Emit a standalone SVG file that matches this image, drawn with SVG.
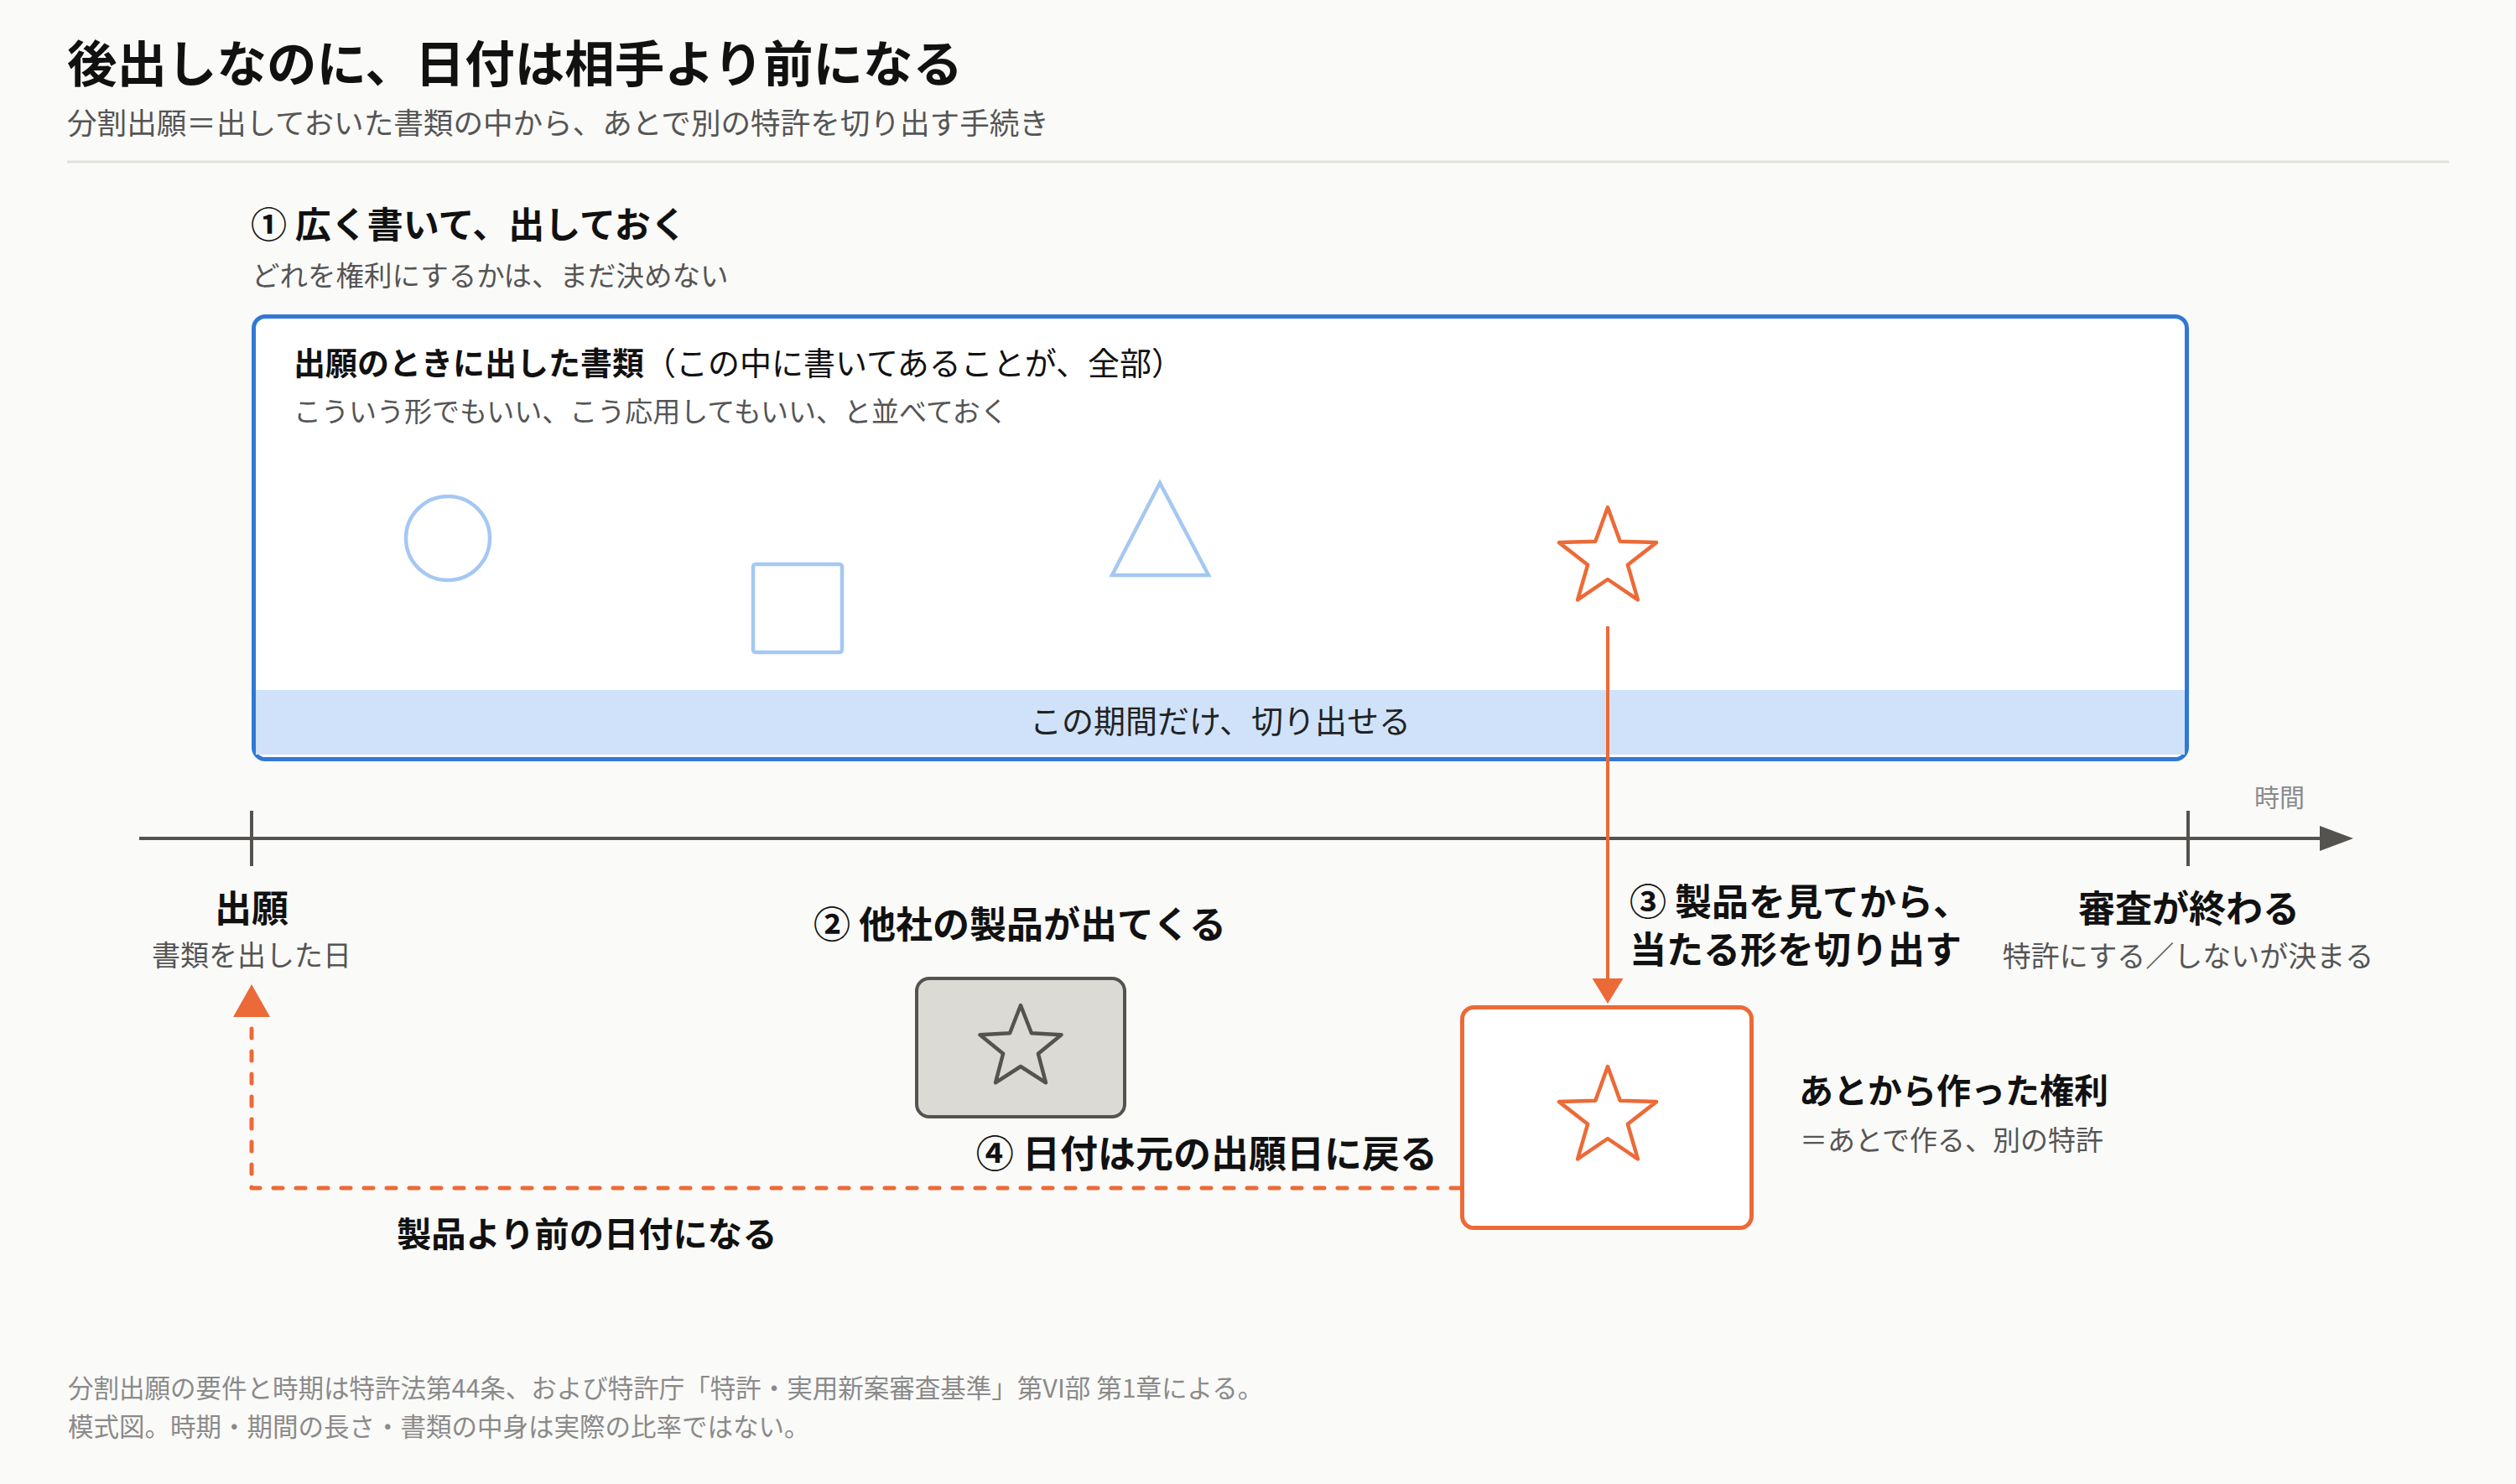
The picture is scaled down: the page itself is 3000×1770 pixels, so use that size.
<svg xmlns="http://www.w3.org/2000/svg" width="3000" height="1770" viewBox="0 0 3000 1770">
<style>
text{font-family:"Noto Sans CJK JP","Noto Sans",sans-serif;}
.h1{font-size:59.5px;font-weight:700;fill:#111;}
.sub{font-size:35.6px;fill:#555;}
.h2{font-size:43px;font-weight:700;fill:#111;}
.lbl{font-size:44px;font-weight:700;fill:#111;}
.note{font-size:33px;fill:#555;}
.foot{font-size:30.5px;fill:#8a8a8a;}
.mid{text-anchor:middle;}
.end{text-anchor:end;}
.shape{fill:none;stroke:#a5c8f2;stroke-width:4.5;}
.ostar{fill:none;stroke:#ec6a37;stroke-width:4.5;stroke-linejoin:round;}
.axis{stroke:#55534f;stroke-width:4;fill:none;}
</style>
<defs>
<path id="star" d="M0,-61 L14.7,-20.2 L58,-18.9 L23.8,7.7 L35.9,49.4 L0,25 L-35.9,49.4 L-23.8,7.7 L-58,-18.9 L-14.7,-20.2 Z"/>
<marker id="axisHead" markerUnits="userSpaceOnUse" markerWidth="40" markerHeight="30" refX="0" refY="15" orient="auto">
<path d="M0,0 L40,15 L0,30 Z" fill="#55534f"/>
</marker>
<marker id="downHead" markerUnits="userSpaceOnUse" markerWidth="30" markerHeight="37" refX="3" refY="18.5" orient="auto">
<path d="M0,0 L30,18.5 L0,37 Z" fill="#ec6a37"/>
</marker>
<marker id="upHead" markerUnits="userSpaceOnUse" markerWidth="39" markerHeight="44" refX="0" refY="22" orient="auto">
<path d="M0,0 L39,22 L0,44 Z" fill="#ec6a37"/>
</marker>
</defs>
<rect x="0" y="0" width="3000" height="1770" fill="#fafaf8"/>

<g id="header">
<text class="h1" x="80" y="98">後出しなのに、日付は相手より前になる</text>
<text class="sub" x="80" y="160">分割出願＝出しておいた書類の中から、あとで別の特許を切り出す手続き</text>
<line x1="80" y1="193" x2="2920" y2="193" stroke="#e2e1dc" stroke-width="3"/>
</g>

<g id="step1-label">
<text class="h2" x="299" y="284">① 広く書いて、出しておく</text>
<text x="300" y="341" style="font-size:33.5px;fill:#555;">どれを権利にするかは、まだ決めない</text>
</g>

<g id="document">
<rect x="302.5" y="377.5" width="2305" height="528" rx="14" fill="#fff" stroke="#3178d4" stroke-width="5"/>
<rect x="305" y="823" width="2300" height="77" fill="#cfe2f9"/>
<text x="350" y="447" style="font-size:38px;fill:#111;"><tspan font-weight="700">出願のときに出した書類</tspan>（この中に書いてあることが、全部）</text>
<text class="note" x="350" y="503">こういう形でもいい、こう応用してもいい、と並べておく</text>
<circle class="shape" cx="534" cy="642" r="50"/>
<rect class="shape" x="898" y="673" width="106" height="105" rx="3"/>
<polygon class="shape" points="1383,576 1441,686 1326,686" stroke-linejoin="miter"/>
<use href="#star" x="1917" y="666" class="ostar"/>
<text class="mid" x="1455" y="874" style="font-size:38px;fill:#222;">この期間だけ、切り出せる</text>
</g>

<g id="timeline">
<line class="axis" x1="166" y1="1000" x2="2766" y2="1000" marker-end="url(#axisHead)"/>
<line class="axis" x1="300" y1="967" x2="300" y2="1033"/>
<line class="axis" x1="2609" y1="967" x2="2609" y2="1033"/>
<text class="mid" x="2718" y="962" style="font-size:30px;fill:#8a8a8a;">時間</text>
</g>

<g id="filing">
<text class="lbl mid" x="300" y="1100">出願</text>
<text class="mid" x="300" y="1152" style="font-size:34px;fill:#555;">書類を出した日</text>
</g>

<g id="competitor">
<text class="lbl mid" x="1216" y="1119">② 他社の製品が出てくる</text>
<rect x="1093" y="1167" width="248" height="165" rx="15" fill="#dcdad4" stroke="#55534f" stroke-width="4"/>
<path d="M1217,1199 L1229.9,1232.2 L1265.5,1234.2 L1237.9,1256.8 L1247,1291.3 L1217,1272 L1187,1291.3 L1196.1,1256.8 L1168.5,1234.2 L1204.1,1232.2 Z" fill="none" stroke="#55534f" stroke-width="4.5" stroke-linejoin="round"/>
</g>

<g id="step3-label">
<text class="lbl" x="1943" y="1092">③ 製品を見てから、</text>
<text class="lbl" x="1943" y="1149">当たる形を切り出す</text>
</g>

<g id="exam-end">
<text class="lbl mid" x="2610" y="1100">審査が終わる</text>
<text class="mid" x="2609" y="1153" style="font-size:34px;fill:#555;">特許にする／しないが決まる</text>
</g>

<g id="divisional">
<rect x="1743.5" y="1201.5" width="345" height="263" rx="14" fill="#fff" stroke="#ec6a37" stroke-width="5"/>
<use href="#star" x="1917" y="1333" class="ostar"/>
<text x="2145" y="1316" style="font-size:41px;font-weight:700;fill:#111;">あとから作った権利</text>
<text class="note" x="2146" y="1372">＝あとで作る、別の特許</text>
</g>

<g id="connectors">
<line x1="1917" y1="747" x2="1917" y2="1170" stroke="#ec6a37" stroke-width="4" marker-end="url(#downHead)"/>
<path d="M1741,1417 H300 V1213" fill="none" stroke="#ec6a37" stroke-width="5" stroke-dasharray="11 16" stroke-linecap="round" stroke-linejoin="round" marker-end="url(#upHead)"/>
</g>

<g id="connector-labels">
<text class="end" x="1714" y="1393" style="font-size:45px;font-weight:700;fill:#111;">④ 日付は元の出願日に戻る</text>
<text x="473" y="1487" style="font-size:41.3px;font-weight:700;fill:#111;">製品より前の日付になる</text>
</g>

<g id="footnote">
<text class="foot" x="81" y="1667">分割出願の要件と時期は特許法第44条、および特許庁「特許・実用新案審査基準」第VI部 第1章による。</text>
<text class="foot" x="81" y="1713">模式図。時期・期間の長さ・書類の中身は実際の比率ではない。</text>
</g>
</svg>
